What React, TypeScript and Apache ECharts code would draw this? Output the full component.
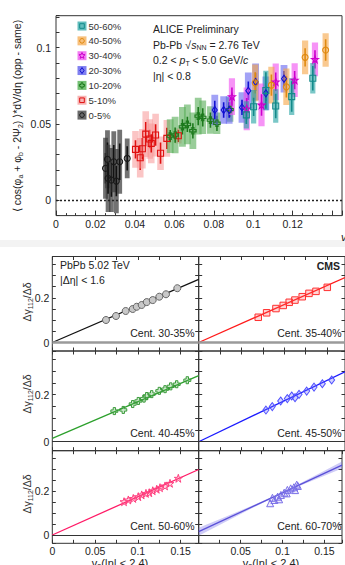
import React, { useEffect, useRef } from 'react';
import * as echarts from 'echarts';

const FONT = '"Liberation Sans", Arial, Helvetica, sans-serif';

// ---------------- ALICE Preliminary (top figure) ----------------
const aliceLegendLabels = ['50-60%', '40-50%', '30-40%', '20-30%', '10-20%', '5-10%', '0-5%'];
const aliceXTicks = [0, 0.02, 0.04, 0.06, 0.08, 0.1, 0.12];
const aliceYTicks = [0, 0.05, 0.1];

const c0005X = [0.0251, 0.0261, 0.0264, 0.0281, 0.0293, 0.0306, 0.0323, 0.0361];
const c0005Y = [0.021, 0.0269, 0.0144, 0.0133, 0.0253, 0.0126, 0.0253, 0.0275];
const c0005Stat = [0.01, 0.011, 0.01, 0.011, 0.011, 0.01, 0.012, 0.008];
const c0005Sys = [0.02, 0.019, 0.022, 0.021, 0.02, 0.021, 0.021, 0.013];

const c0510X = [0.0403, 0.0427, 0.0438, 0.0455, 0.0475, 0.0483, 0.0505, 0.053, 0.0562, 0.062];
const c0510Y = [0.0334, 0.0279, 0.0338, 0.0434, 0.0402, 0.0373, 0.0428, 0.0309, 0.0406, 0.0423];
const c0510Stat = [0.006, 0.008, 0.007, 0.008, 0.006, 0.006, 0.007, 0.007, 0.007, 0.004];
const c0510Sys = [0.012, 0.013, 0.013, 0.015, 0.013, 0.013, 0.014, 0.011, 0.012, 0.005];

const c1020X = [0.0579, 0.0604, 0.0641, 0.0666, 0.0694, 0.0721, 0.0744, 0.0783, 0.0816, 0.0882];
const c1020Y = [0.0421, 0.0428, 0.0482, 0.0498, 0.0456, 0.0552, 0.0544, 0.0526, 0.0505, 0.0595];
const c1020Stat = [0.004, 0.005, 0.005, 0.005, 0.005, 0.006, 0.006, 0.005, 0.005, 0.005];
const c1020Sys = [0.011, 0.012, 0.013, 0.013, 0.012, 0.012, 0.011, 0.009, 0.007, 0.008];

const c2030X = [0.0805, 0.085, 0.0878, 0.0943, 0.0975, 0.1012, 0.1064, 0.1156];
const c2030Y = [0.0592, 0.0592, 0.0592, 0.0609, 0.0718, 0.0776, 0.0701, 0.0797];
const c2030Stat = [0.006, 0.005, 0.005, 0.005, 0.006, 0.006, 0.005, 0.005];
const c2030Sys = [0.01, 0.009, 0.009, 0.01, 0.012, 0.012, 0.011, 0.009];

const c3040X = [0.0892, 0.0967, 0.1042, 0.1114, 0.121, 0.1313];
const c3040Y = [0.068, 0.06, 0.0625, 0.0777, 0.0788, 0.0924];
const c3040Stat = [0.006, 0.007, 0.007, 0.006, 0.006, 0.006];
const c3040Sys = [0.012, 0.014, 0.014, 0.012, 0.011, 0.011];

const c4050X = [0.101, 0.1092, 0.1168, 0.1263, 0.1367];
const c4050Y = [0.077, 0.0755, 0.0744, 0.0937, 0.0985];
const c4050Stat = [0.007, 0.007, 0.007, 0.006, 0.007];
const c4050Sys = [0.012, 0.012, 0.012, 0.011, 0.011];

const c5060X = [0.0965, 0.1002, 0.1064, 0.1114, 0.1195, 0.1302];
const c5060Y = [0.056, 0.0613, 0.072, 0.0618, 0.068, 0.08];
const c5060Stat = [0.006, 0.006, 0.012, 0.008, 0.01, 0.008];
const c5060Sys = [0.009, 0.011, 0.013, 0.011, 0.012, 0.01];

// ---------------- CMS (bottom figure) ----------------
const cmsCentLabels = ['Cent. 30-35%', 'Cent. 35-40%', 'Cent. 40-45%', 'Cent. 45-50%', 'Cent. 50-60%', 'Cent. 60-70%'];
const cmsXTicks = [0, 0.05, 0.1, 0.15];
const cmsYTicks = [0, 0.2];

const p3035X = [0.0627, 0.0744, 0.0857, 0.0939, 0.0986, 0.1044, 0.1103, 0.1173, 0.125, 0.1328, 0.146];
const p3035Y = [0.1007, 0.1186, 0.141, 0.15, 0.16, 0.168, 0.181, 0.19, 0.205, 0.216, 0.243];
const p3540X = [0.0696, 0.0794, 0.0903, 0.0988, 0.1058, 0.1125, 0.121, 0.1289, 0.1371, 0.1503];
const p3540Y = [0.113, 0.133, 0.152, 0.166, 0.18, 0.19, 0.205, 0.22, 0.229, 0.247];
const p4045X = [0.0725, 0.0829, 0.0939, 0.1005, 0.1071, 0.1103, 0.1161, 0.125, 0.1317, 0.1383, 0.1453, 0.1577];
const p4045Y = [0.13, 0.135, 0.16, 0.173, 0.183, 0.194, 0.202, 0.216, 0.223, 0.235, 0.244, 0.261];
const p4550X = [0.0786, 0.086, 0.0958, 0.1036, 0.1087, 0.1126, 0.1173, 0.1262, 0.1348, 0.1445, 0.1554];
const p4550Y = [0.1345, 0.149, 0.173, 0.183, 0.194, 0.187, 0.201, 0.215, 0.232, 0.246, 0.262];
const p5060X = [0.0838, 0.0888, 0.0946, 0.1005, 0.1044, 0.1094, 0.1133, 0.1173, 0.122, 0.1258, 0.1317, 0.1375, 0.1472];
const p5060Y = [0.152, 0.16, 0.167, 0.175, 0.183, 0.19, 0.193, 0.202, 0.209, 0.216, 0.224, 0.236, 0.259];
const p6070X = [0.0853, 0.088, 0.0903, 0.0942, 0.096, 0.0981, 0.102, 0.105, 0.1058, 0.1098, 0.1136, 0.115, 0.117, 0.1183];
const p6070Y = [0.145, 0.17, 0.16, 0.175, 0.163, 0.183, 0.193, 0.19, 0.206, 0.213, 0.218, 0.205, 0.23, 0.224];

const fitSlope = [1.655, 1.7, 1.557, 1.737, 1.75, 1.78];
const fitIntercept = [0, 0, 0.014, 0, 0, 0.015];
const bandX = [0, 0.03, 0.06, 0.09, 0.12, 0.15, 0.171];
const bandHalf = [0.018, 0.012, 0.006, 0.003, 0.005, 0.011, 0.016];

// ---------------- styles ----------------
const STAR = 'path://M50,0 L61.2,34.5 L97.6,34.5 L68.2,55.9 L79.4,90.5 L50,69.1 L20.6,90.5 L31.8,55.9 L2.4,34.5 L38.8,34.5 Z';
const CROSS = 'path://M33,0 L67,0 L67,33 L100,33 L100,67 L67,67 L67,100 L33,100 L33,67 L0,67 L0,33 L33,33 Z';

const centOrder = ['0-5%', '5-10%', '10-20%', '20-30%', '30-40%', '40-50%', '50-60%'];
const aliceData: Record<string, number[][]> = {
  '0-5%': [c0005X, c0005Y, c0005Stat, c0005Sys],
  '5-10%': [c0510X, c0510Y, c0510Stat, c0510Sys],
  '10-20%': [c1020X, c1020Y, c1020Stat, c1020Sys],
  '20-30%': [c2030X, c2030Y, c2030Stat, c2030Sys],
  '30-40%': [c3040X, c3040Y, c3040Stat, c3040Sys],
  '40-50%': [c4050X, c4050Y, c4050Stat, c4050Sys],
  '50-60%': [c5060X, c5060Y, c5060Stat, c5060Sys],
};
const centStyle: Record<string, any> = {
  '0-5%': { box: 'rgba(60,60,60,0.72)', line: '#111', kind: 'circle', mk: '#1a1a1a', hw: 2.4, size: 6, legendBox: '#6a6a6a' },
  '5-10%': { box: 'rgba(248,150,150,0.55)', line: '#e01010', kind: 'rect', mk: '#e01010', hw: 3.3, size: 6, legendBox: '#f7b4b4' },
  '10-20%': { box: 'rgba(90,175,90,0.62)', line: '#1d7a1d', kind: 'cross', mk: '#1d7a1d', hw: 3.4, size: 6.5, legendBox: '#74c074' },
  '20-30%': { box: 'rgba(100,100,240,0.6)', line: '#1010d0', kind: 'diamond', mk: '#1010d0', hw: 3.4, size: [5, 7], legendBox: '#8080f0' },
  '30-40%': { box: 'rgba(240,80,240,0.62)', line: '#cc00cc', kind: 'star', mk: '#cc00cc', hw: 3.1, size: 7, legendBox: '#f27cf2' },
  '40-50%': { box: 'rgba(245,165,70,0.6)', line: '#e08a10', kind: 'circle', mk: '#e08a10', hw: 3.1, size: 6, legendBox: '#f8c07c' },
  '50-60%': { box: 'rgba(40,165,165,0.62)', line: '#138a8a', kind: 'rect', mk: '#138a8a', hw: 2.6, size: 6, legendBox: '#62bdbd' },
};
const symbolOf: Record<string, string> = { circle: 'circle', rect: 'rect', diamond: 'diamond', star: STAR, cross: CROSS };

const cmsData = [
  [p3035X, p3035Y], [p3540X, p3540Y], [p4045X, p4045Y],
  [p4550X, p4550Y], [p5060X, p5060Y], [p6070X, p6070Y],
];
const cmsStyle = [
  { line: '#111', sym: 'circle', size: 7, fill: '#c8c8c8', border: '#666', zero: '#9a9a9a', zw: 2.5 },
  { line: '#ff1a1a', sym: 'rect', size: 6.5, fill: 'rgba(255,90,90,0.25)', border: '#ff3030', zero: '#9a9a9a', zw: 2.5 },
  { line: '#2ca02c', sym: CROSS, size: 7, fill: 'rgba(90,180,90,0.3)', border: '#3a9a3a', zero: '#333', zw: 1.2 },
  { line: '#1a1aff', sym: 'diamond', size: [6, 8], fill: 'rgba(110,110,255,0.3)', border: '#5050ff', zero: '#333', zw: 1.2 },
  { line: '#ff1a66', sym: STAR, size: 8, fill: 'rgba(255,90,140,0.25)', border: '#ff4080', zero: '#333', zw: 1.2 },
  { line: '#5a50d8', sym: 'triangle', size: 7, fill: 'rgba(120,110,230,0.12)', border: '#7a70e8', zero: '#333', zw: 1.2 },
];

const CMS_XMAX = 0.171;
const CMS_YMIN = -0.038;
const CMS_YMAX = 0.385;
const colLeft = [52.3, 198.7];
const colWidth = 146.4;
const rowTop = [256.5, 351, 450.7];
const rowHeight = [94.5, 99.7, 92.6];

function fmt(allowed: number[]) {
  return (v: number) => {
    const r = Math.round(v * 1000) / 1000;
    return allowed.some((a) => Math.abs(a - r) < 1e-9) ? String(r) : '';
  };
}

function starPoints(cx: number, cy: number, R: number, r: number) {
  const pts: number[][] = [];
  for (let k = 0; k < 10; k++) {
    const a = -Math.PI / 2 + (k * Math.PI) / 5;
    const rr = k % 2 === 0 ? R : r;
    pts.push([cx + rr * Math.cos(a), cy + rr * Math.sin(a)]);
  }
  return pts;
}

function legendMarker(kind: string, cx: number, cy: number, color: string) {
  const style = { fill: 'none', stroke: color, lineWidth: 1 };
  if (kind === 'circle') return { type: 'circle', shape: { cx, cy, r: 2.3 }, style };
  if (kind === 'rect') return { type: 'rect', shape: { x: cx - 2.3, y: cy - 2.3, width: 4.6, height: 4.6 }, style };
  if (kind === 'diamond')
    return { type: 'polygon', shape: { points: [[cx, cy - 3], [cx + 2, cy], [cx, cy + 3], [cx - 2, cy]] }, style };
  if (kind === 'star') return { type: 'polygon', shape: { points: starPoints(cx, cy, 3.2, 1.4) }, style };
  const a = 0.9, b = 2.6;
  return {
    type: 'polygon',
    shape: {
      points: [
        [cx - a, cy - b], [cx + a, cy - b], [cx + a, cy - a], [cx + b, cy - a], [cx + b, cy + a], [cx + a, cy + a],
        [cx + a, cy + b], [cx - a, cy + b], [cx - a, cy + a], [cx - b, cy + a], [cx - b, cy - a], [cx - a, cy - a],
      ],
    },
    style,
  };
}

function buildOption() {
  const grid: any[] = [
    { left: 56, top: 15.7, width: 289, height: 199.9, show: true, borderColor: '#333', borderWidth: 1, backgroundColor: 'transparent' },
  ];
  const xAxis: any[] = [];
  const yAxis: any[] = [];
  const series: any[] = [];
  const labelBase = { fontSize: 10.5, color: '#222', fontFamily: FONT };

  xAxis.push({
    gridIndex: 0, type: 'value', min: 0, max: 0.145, interval: 0.02,
    axisLine: { show: false, onZero: false },
    axisTick: { show: true, inside: true, length: 5, lineStyle: { color: '#333', width: 1 } },
    minorTick: { show: true, splitNumber: 4, length: 2.5, lineStyle: { color: '#333', width: 1 } },
    splitLine: { show: false },
    axisLabel: { ...labelBase, margin: 3, formatter: fmt(aliceXTicks) },
  });
  yAxis.push({
    gridIndex: 0, type: 'value', min: -0.01, max: 0.121, interval: 0.01,
    axisLine: { show: false, onZero: false },
    axisTick: { show: true, inside: true, length: 3.5, lineStyle: { color: '#333', width: 1 } },
    splitLine: { show: false },
    axisLabel: { ...labelBase, margin: 5, formatter: fmt(aliceYTicks) },
  });

  centOrder.forEach((c, ci) => {
    const [xs, ys, st, sy] = aliceData[c];
    const s = centStyle[c];
    series.push({
      type: 'custom', name: c + ' sys', xAxisIndex: 0, yAxisIndex: 0, clip: true,
      data: xs.map((x, i) => [x, ys[i], st[i], sy[i]]),
      renderItem: (params: any, api: any) => {
        const x = api.value(0), y = api.value(1), e1 = api.value(2), e2 = api.value(3);
        const cpt = api.coord([x, y]);
        const t = api.coord([x, y + e2]);
        const b = api.coord([x, y - e2]);
        const ts = api.coord([x, y + e1]);
        const bs = api.coord([x, y - e1]);
        return {
          type: 'group',
          children: [
            { type: 'rect', shape: { x: cpt[0] - s.hw, y: t[1], width: s.hw * 2, height: b[1] - t[1] }, style: { fill: s.box } },
            { type: 'line', shape: { x1: cpt[0], y1: ts[1], x2: cpt[0], y2: bs[1] }, style: { stroke: s.line, lineWidth: 1.6 } },
          ],
        };
      },
    });
    const sc: any = {
      type: 'scatter', name: c, xAxisIndex: 0, yAxisIndex: 0,
      data: xs.map((x, i) => [x, ys[i]]),
      symbol: symbolOf[s.kind], symbolSize: s.size,
      itemStyle: { color: 'rgba(255,255,255,0)', borderColor: s.mk, borderWidth: 1.1, opacity: 1 },
    };
    if (ci === 0) {
      sc.markLine = {
        silent: true, symbol: 'none', label: { show: false },
        lineStyle: { type: [2, 2], color: '#222', width: 1.3 },
        data: [{ yAxis: 0 }],
      };
    }
    series.push(sc);
  });

  // CMS panels
  for (let p = 0; p < 6; p++) {
    const col = p % 2;
    const row = Math.floor(p / 2);
    grid.push({
      left: colLeft[col], top: rowTop[row], width: colWidth, height: rowHeight[row],
      show: true, borderColor: '#333', borderWidth: 1, backgroundColor: 'transparent',
    });
    const gi = p + 1;
    const tick = { show: true, inside: true, length: 3.5, lineStyle: { color: '#333', width: 1 } };
    const xBase = {
      gridIndex: gi, type: 'value', min: 0, max: CMS_XMAX, interval: 0.025,
      axisLine: { show: false, onZero: false }, axisTick: tick, splitLine: { show: false },
    };
    xAxis.push({
      ...xBase, position: 'bottom',
      axisLabel: row === 2
        ? { ...labelBase, fontSize: 10.5, margin: 2, formatter: fmt(col === 0 ? cmsXTicks : cmsXTicks.slice(1)) }
        : { show: false },
    });
    xAxis.push({ ...xBase, position: 'top', axisLabel: { show: false } });
    const yBase = {
      gridIndex: gi, type: 'value', min: CMS_YMIN, max: CMS_YMAX, splitNumber: 8,
      axisLine: { show: false, onZero: false }, axisTick: tick, splitLine: { show: false },
    };
    yAxis.push({
      ...yBase, position: 'left',
      axisLabel: col === 0 ? { ...labelBase, margin: 3, formatter: fmt(cmsYTicks) } : { show: false },
    });
    yAxis.push({ ...yBase, position: 'right', axisLabel: { show: false } });

    const xi = 1 + 2 * p;
    const yi = 1 + 2 * p;
    const st = cmsStyle[p];
    const m = fitSlope[p];
    const b0 = fitIntercept[p];
    if (p === 5) {
      series.push({
        type: 'custom', xAxisIndex: xi, yAxisIndex: yi, clip: true, data: [[0, 0]],
        renderItem: (params: any, api: any) => {
          const up = bandX.map((x, i) => api.coord([x, b0 + m * x + bandHalf[i]]));
          const lo = bandX.map((x, i) => api.coord([x, b0 + m * x - bandHalf[i]])).reverse();
          return { type: 'polygon', shape: { points: up.concat(lo) }, style: { fill: 'rgba(130,120,235,0.38)' } };
        },
      });
    }
    series.push({
      type: 'line', xAxisIndex: xi, yAxisIndex: yi, showSymbol: false, symbol: 'none',
      data: [[0, b0], [CMS_XMAX, b0 + m * CMS_XMAX]],
      lineStyle: { color: st.line, width: 1.3 },
      markLine: {
        silent: true, symbol: 'none', label: { show: false },
        lineStyle: { type: 'solid', color: st.zero, width: st.zw },
        data: [{ yAxis: 0 }],
      },
      z: 2,
    });
    const [px, py] = cmsData[p];
    series.push({
      type: 'scatter', xAxisIndex: xi, yAxisIndex: yi,
      data: px.map((x, i) => [x, py[i]]),
      symbol: st.sym, symbolSize: st.size,
      itemStyle: { color: st.fill, borderColor: st.border, borderWidth: 1, opacity: 1 },
      z: 3,
    });
  }

  // graphics: texts & legend
  const g: any[] = [];
  const txt = (x: number, y: number, text: string, extra: any = {}, rich?: any, rot = 0) => ({
    type: 'text', x, y, rotation: rot, silent: true,
    style: {
      text, fontSize: 10.5, fontFamily: FONT, fill: '#222', verticalAlign: 'middle', align: 'left',
      ...(rich ? { rich } : {}), ...extra,
    },
  });
  g.push({ type: 'rect', shape: { x: 0, y: 240, width: 345, height: 7 }, style: { fill: '#f3f3f3' }, silent: true });

  const sub = { fontSize: 7, padding: [6, 0, 0, 0], fontFamily: FONT };
  const ital = { fontStyle: 'italic', fontSize: 10.5, fontFamily: FONT };
  g.push(txt(153, 29, 'ALICE Preliminary'));
  g.push(txt(153, 44.5, 'Pb-Pb {r|√}{i|s}{s|NN} = 2.76 TeV', {}, { r: { fontSize: 11, fontFamily: FONT }, i: ital, s: sub }));
  g.push(txt(153, 60, '0.2 < {i|p}{s|T} < 5.0 GeV/{i|c}', {}, { i: ital, s: sub }));
  g.push(txt(153, 76, '|η| < 0.8'));
  g.push(txt(17, 116, '⟨ cos(φ{s|a} + φ{s|b} - 2Ψ{s|2}) ⟩*dV/dη (opp - same)', { align: 'center' }, { s: sub }, Math.PI / 2));
  g.push(txt(341, 237, 'v', { fontStyle: 'italic', fontSize: 11 }));

  aliceLegendLabels.forEach((lab, i) => {
    const cy = 26 + i * 14.85;
    const s = centStyle[lab];
    g.push({ type: 'rect', silent: true, shape: { x: 77.5, y: cy - 4.5, width: 9, height: 9 }, style: { fill: s.legendBox } });
    g.push({ ...legendMarker(s.kind, 82, cy, s.mk), silent: true });
    g.push(txt(88.5, cy, lab, { fontSize: 9.5, fill: '#333' }));
  });

  // CMS texts
  g.push(txt(60, 265, 'PbPb 5.02 TeV'));
  g.push(txt(60, 279.5, '|Δη| < 1.6'));
  g.push(txt(340, 266, 'CMS', { align: 'right', fontWeight: 'bold' }));
  const centY = [332.5, 432.7, 526];
  cmsCentLabels.forEach((lab, p) => {
    const col = p % 2;
    const row = Math.floor(p / 2);
    g.push(txt(col === 0 ? 194.5 : 341.5, centY[row], lab, { align: 'right' }));
  });
  const yTitleY = [302, 394, 494];
  yTitleY.forEach((yy) => {
    g.push(txt(27, yy, 'Δγ{s|112}/Δδ', { align: 'center', fill: '#333' }, { s: sub }, Math.PI / 2));
  });
  g.push(txt(120, 563, 'v{s|2}(|η| < 2.4)', { align: 'center', fontSize: 11 }, { s: sub }));
  g.push(txt(271, 563, 'v{s|2}(|η| < 2.4)', { align: 'center', fontSize: 11 }, { s: sub }));

  return {
    animation: false,
    backgroundColor: '#ffffff',
    grid,
    xAxis,
    yAxis,
    series,
    graphic: { elements: g },
  };
}

export default function App() {
  const ref = useRef<HTMLDivElement>(null);
  useEffect(() => {
    if (!ref.current) return;
    const chart = echarts.init(ref.current, undefined, { renderer: 'svg' });
    chart.setOption(buildOption() as any);
    return () => chart.dispose();
  }, []);
  return (
    <div
      ref={ref}
      style={{ position: 'fixed', left: 0, top: 0, width: 345, height: 565, background: '#fff' }}
    />
  );
}
